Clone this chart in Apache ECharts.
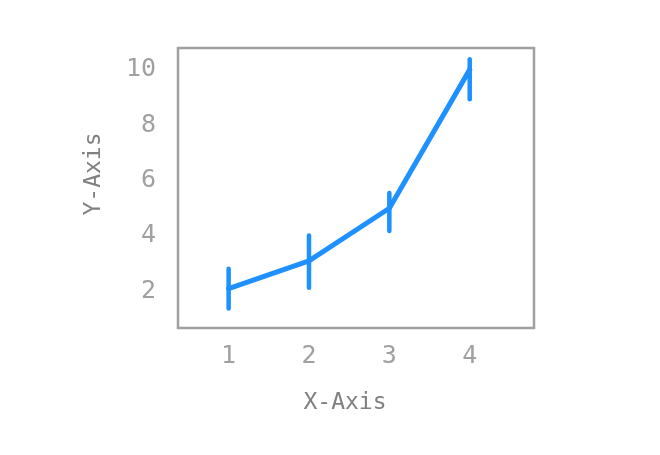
<!DOCTYPE html>
<html><head><meta charset="utf-8">
<script src="https://cdn.jsdelivr.net/npm/echarts@6/dist/echarts.min.js"></script>
<style>html,body{margin:0;padding:0;background:#fff}#c{width:660px;height:455px}</style>
</head><body><div id="c"></div>
<script>
const xValues = [1, 2, 3, 4];
const yValues = [2.1, 3.1, 5.0, 10.0];
const errLower = [0.72, 0.97, 0.82, 1.07];
const errUpper = [0.72, 0.92, 0.55, 0.37];
const xTicks = [1, 2, 3, 4];
const yTicks = [2, 4, 6, 8, 10];
const xTitle = 'X-Axis';
const yTitle = 'Y-Axis';

const FONT = 'DejaVu Sans Mono';
const BLUE = '#1e90ff';
const lineData = xValues.map((x, i) => [x, yValues[i]]);
const errData = xValues.map((x, i) => [x, yValues[i] - errLower[i], yValues[i] + errUpper[i]]);

const chart = echarts.init(document.getElementById('c'), null, {renderer: 'canvas'});
chart.setOption({
  backgroundColor: '#fff',
  animation: false,
  grid: {left: 178, right: 126, top: 48, bottom: 127, show: true, borderColor: '#a0a0a0', borderWidth: 2.5, backgroundColor: 'transparent', containLabel: false},
  xAxis: {
    type: 'value', min: 0.37, max: 4.8,
    axisLine: {show: false}, axisTick: {show: false}, splitLine: {show: false},
    axisLabel: {customValues: xTicks, color: '#a0a0a0', fontFamily: FONT, fontSize: 25, margin: 16}
  },
  yAxis: {
    type: 'value', min: 0.68, max: 10.78,
    axisLine: {show: false}, axisTick: {show: false}, splitLine: {show: false},
    axisLabel: {customValues: yTicks, color: '#a0a0a0', fontFamily: FONT, fontSize: 25, margin: 22, padding: [4, 0, 0, 0]}
  },
  graphic: [
    {type: 'text', x: 345, y: 403, style: {text: xTitle, fill: '#808080', font: '23px "DejaVu Sans Mono"', textAlign: 'center', textVerticalAlign: 'middle'}},
    {type: 'text', x: 94, y: 174, rotation: Math.PI / 2, style: {text: yTitle, fill: '#808080', font: '23px "DejaVu Sans Mono"', textAlign: 'center', textVerticalAlign: 'middle'}}
  ],
  series: [
    {
      type: 'line', data: lineData, symbol: 'none', z: 3,
      lineStyle: {color: BLUE, width: 5, cap: 'round', join: 'round'}
    },
    {
      type: 'custom', data: errData, z: 4,
      renderItem: function (params, api) {
        const lo = api.coord([api.value(0), api.value(1)]);
        const hi = api.coord([api.value(0), api.value(2)]);
        return {type: 'line', shape: {x1: lo[0], y1: lo[1], x2: hi[0], y2: hi[1]},
          style: {stroke: BLUE, lineWidth: 4.5, lineCap: 'round'}};
      },
      encode: {x: 0, y: [1, 2]}
    }
  ]
});
</script></body></html>
